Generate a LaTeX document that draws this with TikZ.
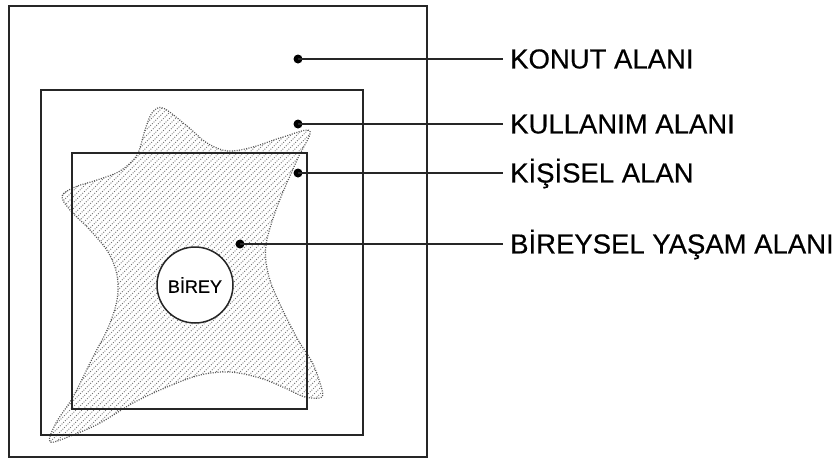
\documentclass[tikz,border=0pt]{standalone}
\usepackage{fontspec}
\setmainfont{Liberation Sans}
\newfontfamily\labfont[FakeBold=0.35]{Liberation Sans}
\begin{document}
\begin{tikzpicture}[x=1pt,y=-1pt,
 frame/.style={draw=black!85, line width=1.6pt, rectangle, inner sep=0pt},
 leader/.style={draw=black!85, line width=1.6pt},
 pin/.style={circle, fill=black, inner sep=0pt, minimum size=9pt},
 lab/.style={anchor=west, font=\labfont\fontsize{27.5}{30}\selectfont, inner xsep=7pt, inner ysep=0pt, text height=18.9pt, text depth=0pt},
 hatch/.style={black!55, line width=0.9pt, dash pattern=on 0.9pt off 1.5pt},
 outline/.style={black!65, line width=1.2pt, dash pattern=on 1pt off 1.4pt}]

\useasboundingbox (0,0) rectangle (837,459);
\fill[white] (0,0) rectangle (837,459);

% hatched blob (bireysel yasam alani)
\begin{scope}
\clip plot[smooth cycle, tension=0.55] coordinates {
 (163,108) (187,126) (207,143) (228,151) (253,147) (283,137) (310,131)
 (297,160) (277,207) (266,245) (268,273) (278,300) (297,338) (312,362) (320,383) (322,397)
 (305,397) (285,388) (260,378) (230,372) (200,375) (167,387) (133,403) (100,423) (73,435) (50,442)
 (56,423) (73,397) (93,357) (108,328) (117,300) (117,275) (108,252) (90,230) (70,210) (62,196)
 (75,187) (97,180) (120,171) (137,155) (145,130) (152,113)};
\foreach \k in {-460,-454,...,840} \draw[hatch] (\k,460) -- ++(460,-460);
\end{scope}
\draw[outline] plot[smooth cycle, tension=0.55] coordinates {
 (163,108) (187,126) (207,143) (228,151) (253,147) (283,137) (310,131)
 (297,160) (277,207) (266,245) (268,273) (278,300) (297,338) (312,362) (320,383) (322,397)
 (305,397) (285,388) (260,378) (230,372) (200,375) (167,387) (133,403) (100,423) (73,435) (50,442)
 (56,423) (73,397) (93,357) (108,328) (117,300) (117,275) (108,252) (90,230) (70,210) (62,196)
 (75,187) (97,180) (120,171) (137,155) (145,130) (152,113)};

% frames
\node[frame, minimum width=418pt, minimum height=451pt] (konut) at (218,231.5) {};
\node[frame, minimum width=322pt, minimum height=345pt] (kullanim) at (202,262.5) {};
\node[frame, minimum width=235pt, minimum height=256pt] (kisisel) at (189.5,281) {};

% individual
\node[circle, draw=black!85, line width=1.5pt, fill=white, minimum size=76pt, inner sep=0pt,
      font=\labfont\fontsize{18}{20}\selectfont] (birey) at (195,285) {BİREY};

% pins
\node[pin] (p1) at (298,59) {};
\node[pin] (p2) at (298,124) {};
\node[pin] (p3) at (298,173) {};
\node[pin] (p4) at (240,244) {};

% labels
\node[lab] (l1) at (503,59) {KONUT ALANI};
\node[lab] (l2) at (503,124) {KULLANIM ALANI};
\node[lab] (l3) at (503,173) {KİŞİSEL ALAN};
\node[lab] (l4) at (503,244) {BİREYSEL YAŞAM ALANI};

\draw[leader] (p1.center) -- (l1.west);
\draw[leader] (p2.center) -- (l2.west);
\draw[leader] (p3.center) -- (l3.west);
\draw[leader] (p4.center) -- (l4.west);
\end{tikzpicture}
\end{document}
